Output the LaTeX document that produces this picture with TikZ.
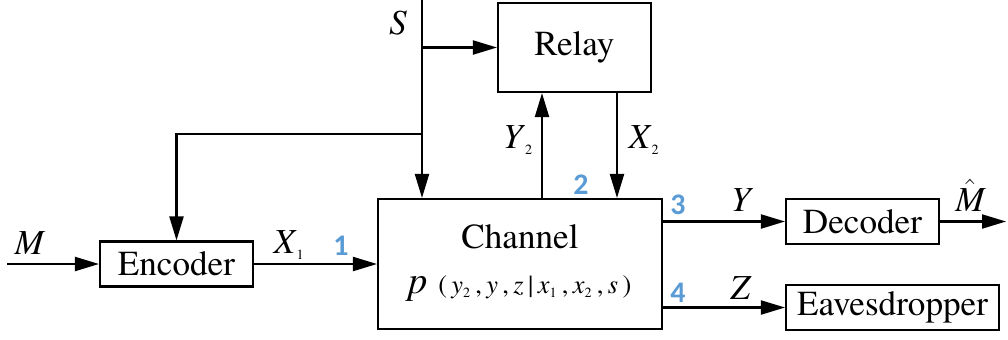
\documentclass[tikz,border=0pt]{standalone}
\usepackage{fontspec}
\IfFontExistsTF{TeX Gyre Termes}{\setmainfont{TeX Gyre Termes}}{\setmainfont{Liberation Serif}}
\newfontfamily\numfont{Carlito}
\usetikzlibrary{arrows.meta}
\definecolor{numblue}{HTML}{5B9BD5}
\newcommand{\sbs}[1]{\mbox{\rmfamily\fontsize{8}{8}\selectfont #1}}
\newcommand{\vr}[1]{\textit{#1}}

\begin{document}
\begin{tikzpicture}[x=0.02cm,y=-0.02cm,
        font=\rmfamily\fontsize{20}{22}\selectfont,
        blk/.style={draw,line width=1.2pt,inner sep=0pt},
        con/.style={line width=1.2pt,-{Triangle[length=0.48cm,width=0.28cm]}},
        num/.style={font=\numfont\bfseries\fontsize{17}{17}\selectfont,text=numblue}]
        \useasboundingbox (0,0) rectangle (1008,339);
        \node[blk,minimum width=3.06cm,minimum height=1.78cm] (relay) at (574.5,47.5) {Relay};
        \node[blk,minimum width=3.06cm,minimum height=0.9cm] (enc) at (176.5,264) {Encoder};
        \node[blk,minimum width=5.68cm,minimum height=2.6cm] (chan) at (520,264) {};
        \node[blk,minimum width=3.06cm,minimum height=0.9cm] (dec) at (862.5,221.5) {Decoder};
        \node[blk,minimum width=4.26cm,minimum height=0.9cm] (eve) at (892.5,307.5) {Eavesdropper};
        \node (chtxt) at (520,237) {Channel};
        \node (chfun) at (520,289) {{\fontsize{22}{22}\selectfont\vr{p}}\,{\fontsize{15}{16}\selectfont\,(\,\vr{y}$_{\sbs{2}}$\,,\,\vr{y}\,,\,\vr{z}\,|\,\vr{x}$_{\sbs{1}}$\,,\,\vr{x}$_{\sbs{2}}$\,,\,\vr{s}\,)}};
        \coordinate (stop) at (422,0);
        \coordinate (sfork) at (422,134);
        \coordinate (min) at (7,264);
        \coordinate (mout) at (1006,221.5);
        \draw[con] (stop) -- (stop |- chan.north);
        \draw[con] (stop |- relay.west) -- (relay.west);
        \draw[con] (sfork) -| (enc.north);
        \draw[con] ([xshift=0.44cm]chan.north) -- ([xshift=0.44cm]chan.north |- relay.south);
        \draw[con] ([xshift=0.85cm]relay.south) -- ([xshift=0.85cm]relay.south |- chan.north);
        \draw[con] (min) -- (enc.west);
        \draw[con] (enc.east) -- (chan.west);
        \draw[con] (chan.east |- dec.west) -- (dec.west);
        \draw[con] (chan.east |- eve.west) -- (eve.west);
        \draw[con] (dec.east) -- (mout);
        \node (slab) at (398,23) {\vr{S}};
        \node (mlab) at (30,243) {\vr{M}};
        \node (x1lab) at (289,245) {\vr{X}$_{\sbs{1}}$};
        \node (y2lab) at (518,140) {\vr{Y}$_{\sbs{2}}$};
        \node (x2lab) at (644,140) {\vr{X}$_{\sbs{2}}$};
        \node (ylab) at (742,200) {\vr{Y}};
        \node (zlab) at (741,288) {\vr{Z}};
        \node[inner sep=1pt] (mhat) at (970,195) {$\hat{\vr{M}}$};
        \node[num] (n1) at (341,246) {1};
        \node[num] (n2) at (581,185) {2};
        \node[num] (n3) at (678,205) {3};
        \node[num] (n4) at (678,292.5) {4};
    \end{tikzpicture}
\end{document}
